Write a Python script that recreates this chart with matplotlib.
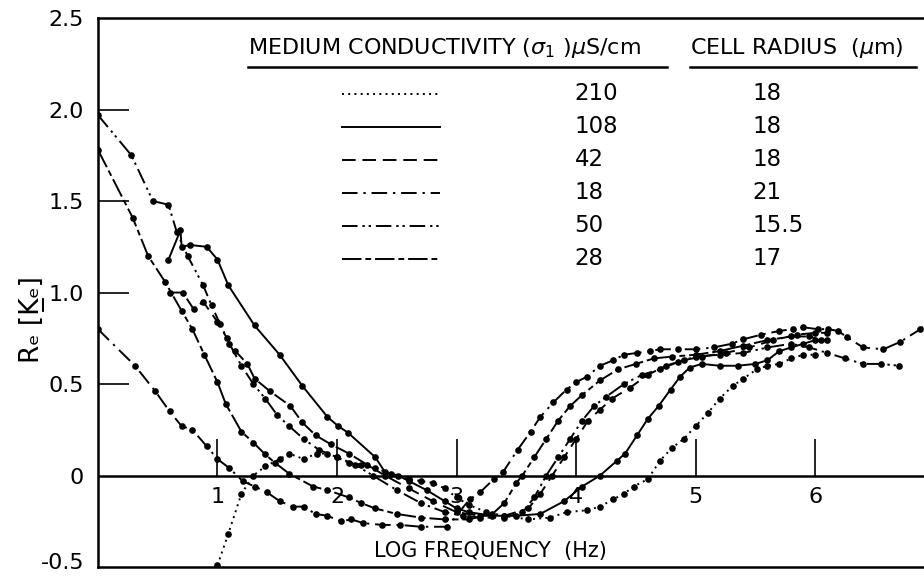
import matplotlib.pyplot as plt
from matplotlib.transforms import ScaledTranslation

plt.rcParams['font.family'] = ['DejaVu Sans']

# medium conductivity (uS/cm) and cell radius (um) for each run
conductivity = ["210", "108", "42", "18", "50", "28"]
radius = ["18", "18", "18", "21", "15.5", "17"]

# log frequency / Re[Ke] readings for each run
x_210 = [1.0, 1.09, 1.2, 1.3, 1.4, 1.52, 1.6, 1.72, 1.83, 1.92, 2.0, 2.1, 2.2, 2.32, 2.45, 2.6,
         2.7, 2.8, 2.9, 3.0, 3.1, 3.25, 3.4, 3.6, 3.78, 3.92, 4.09, 4.2, 4.31, 4.4, 4.48, 4.6,
         4.7, 4.8, 4.9, 5.0, 5.1, 5.2, 5.31, 5.4, 5.51, 5.6, 5.7, 5.8, 5.9, 6.0]
y_210 = [-0.49, -0.32, -0.1, 0.0, 0.05, 0.09, 0.12, 0.09, 0.12, 0.12, 0.1, 0.07, 0.06, 0.04,
         0.01, -0.02, -0.03, -0.04, -0.07, -0.12, -0.16, -0.2, -0.22, -0.24, -0.23, -0.2,
         -0.19, -0.17, -0.13, -0.1, -0.06, -0.02, 0.08, 0.15, 0.2, 0.27, 0.34, 0.42, 0.49,
         0.53, 0.58, 0.6, 0.61, 0.64, 0.66, 0.66]

x_108 = [0.59, 0.69, 0.7, 0.77, 0.91, 1.0, 1.09, 1.31, 1.52, 1.71, 1.92, 2.01, 2.09, 2.32,
         2.4, 2.51, 2.6, 2.75, 2.9, 3.0, 3.1, 3.3, 3.5, 3.7, 3.9, 4.05, 4.2, 4.34, 4.41, 4.51,
         4.6, 4.69, 4.79, 4.87, 4.95, 5.05, 5.2, 5.35, 5.5, 5.6, 5.7, 5.8, 5.9, 6.0, 6.1]
y_108 = [1.18, 1.34, 1.25, 1.26, 1.25, 1.18, 1.04, 0.82, 0.66, 0.49, 0.32, 0.27, 0.235, 0.1,
         0.02, 0.0, -0.03, -0.08, -0.14, -0.18, -0.2, -0.22, -0.22, -0.21, -0.14, -0.06, 0.0,
         0.08, 0.12, 0.22, 0.31, 0.38, 0.47, 0.54, 0.59, 0.61, 0.6, 0.6, 0.61, 0.63, 0.68,
         0.7, 0.72, 0.74, 0.74]

x_42 = [0.6, 0.71, 0.8, 0.88, 1.0, 1.08, 1.15, 1.25, 1.31, 1.44, 1.61, 1.71, 1.82, 1.95, 2.1,
        2.25, 2.4, 2.6, 2.8, 3.0, 3.2, 3.4, 3.6, 3.7, 3.8, 3.9, 4.0, 4.1, 4.2, 4.3, 4.45, 4.6,
        4.75, 4.9, 5.05, 5.25, 5.45, 5.65, 5.85, 6.0, 6.1]
y_42 = [1.0, 1.0, 0.91, 0.95, 0.84, 0.75, 0.68, 0.61, 0.53, 0.46, 0.38, 0.29, 0.22, 0.17, 0.12,
        0.06, 0.0, -0.07, -0.14, -0.2, -0.22, -0.22, -0.18, -0.1, 0.0, 0.1, 0.2, 0.3, 0.36,
        0.42, 0.48, 0.55, 0.6, 0.63, 0.65, 0.67, 0.7, 0.74, 0.77, 0.78, 0.78]

x_18 = [0.0, 0.31, 0.48, 0.6, 0.7, 0.79, 0.91, 1.0, 1.1, 1.21, 1.31, 1.41, 1.52, 1.63, 1.72,
        1.82, 1.92, 2.03, 2.12, 2.22, 2.38, 2.53, 2.7, 2.92, 3.11, 3.2, 3.31, 3.39, 3.51, 3.62,
        3.7, 3.81, 3.92, 4.0, 4.09, 4.2, 4.31, 4.4, 4.51, 4.62, 4.7, 4.85, 5.0, 5.15, 5.3,
        5.4, 5.55, 5.7, 5.81, 5.9, 6.02, 6.11, 6.19, 6.27, 6.4, 6.57, 6.71, 6.88, 6.95]
y_18 = [0.8, 0.6, 0.46, 0.35, 0.27, 0.25, 0.16, 0.09, 0.04, -0.03, -0.06, -0.09, -0.14, -0.17,
        -0.17, -0.21, -0.22, -0.25, -0.24, -0.26, -0.27, -0.27, -0.28, -0.28, -0.13, -0.09,
        -0.02, 0.02, 0.14, 0.24, 0.32, 0.4, 0.47, 0.51, 0.54, 0.6, 0.63, 0.66, 0.67, 0.68,
        0.69, 0.69, 0.69, 0.7, 0.72, 0.745, 0.77, 0.79, 0.8, 0.81, 0.8, 0.8, 0.79, 0.755, 0.7,
        0.69, 0.73, 0.8, 0.84]

x_50 = [0.0, 0.28, 0.46, 0.59, 0.66, 0.75, 0.88, 0.95, 1.02, 1.1, 1.2, 1.3, 1.4, 1.5, 1.6,
        1.72, 1.85, 2.0, 2.15, 2.3, 2.5, 2.7, 2.9, 3.05, 3.2, 3.4, 3.55, 3.65, 3.75, 3.85, 3.95,
        4.05, 4.15, 4.25, 4.4, 4.55, 4.7, 4.85, 5.0, 5.2, 5.4, 5.6, 5.8, 5.95, 6.1, 6.25, 6.4,
        6.55, 6.7]
y_50 = [1.97, 1.75, 1.5, 1.48, 1.33, 1.2, 1.04, 0.93, 0.83, 0.72, 0.6, 0.5, 0.42, 0.33, 0.27,
        0.2, 0.14, 0.1, 0.06, 0.0, -0.08, -0.15, -0.2, -0.22, -0.23, -0.23, -0.2, -0.12, 0.0,
        0.1, 0.2, 0.3, 0.38, 0.43, 0.5, 0.55, 0.58, 0.62, 0.65, 0.66, 0.67, 0.7, 0.72, 0.7,
        0.67, 0.64, 0.61, 0.61, 0.6]

x_28 = [0.0, 0.29, 0.42, 0.56, 0.7, 0.79, 0.89, 1.0, 1.07, 1.2, 1.3, 1.4, 1.48, 1.6, 1.8,
        1.92, 2.1, 2.2, 2.32, 2.5, 2.7, 2.9, 3.1, 3.3, 3.4, 3.5, 3.55, 3.65, 3.75, 3.85, 3.95,
        4.05, 4.2, 4.35, 4.5, 4.65, 4.8, 5.0, 5.2, 5.4, 5.6, 5.8, 5.95, 6.05]
y_28 = [1.78, 1.41, 1.2, 1.06, 0.9, 0.8, 0.66, 0.51, 0.39, 0.24, 0.18, 0.115, 0.07, 0.01,
        -0.06, -0.08, -0.12, -0.15, -0.18, -0.21, -0.23, -0.24, -0.24, -0.21, -0.15, -0.04,
        0.0, 0.1, 0.2, 0.3, 0.38, 0.44, 0.52, 0.58, 0.61, 0.64, 0.65, 0.66, 0.68, 0.71, 0.74,
        0.76, 0.76, 0.74]

series = [(x_210, y_210), (x_108, y_108), (x_42, y_42),
          (x_18, y_18), (x_50, y_50), (x_28, y_28)]
styles = [(0, (1, 2.2)), "-", (0, (7, 3.5)), (0, (8, 3, 1.2, 3)),
          (0, (8, 2.5, 1.2, 2, 1.2, 2.5)), (0, (10, 2, 3, 2))]

fig = plt.figure(figsize=(9.24, 5.76), dpi=100)
ax = fig.add_axes([0.106, 0.0156, 0.894, 0.953])

for (xs, ys), ls in zip(series, styles):
    ax.plot(xs, ys, color="black", lw=1.4, ls=ls, marker="o", ms=4.8,
            markerfacecolor="black", markeredgewidth=0)

# zero line with the frequency ticks standing on it
ax.axhline(0, color="black", lw=1.8)
xticks = [1, 2, 3, 4, 5, 6]
ax.vlines(xticks, 0, 0.2, color="black", lw=1.2)
for t in xticks:
    ax.text(t, -0.12, str(t), ha="center", va="center", fontsize=16)

ax.set_xlim(0, 6.91)
ax.set_ylim(-0.5, 2.5)
ax.set_xticks([])
yticks = [-0.5, 0, 0.5, 1.0, 1.5, 2.0, 2.5]
ax.set_yticks(yticks)
ax.set_yticklabels(["-0.5", "0", "0.5", "1.0", "1.5", "2.0", "2.5"], fontsize=16)
ax.tick_params(axis="y", direction="in", length=22, width=1.2, pad=10)
for i in (0, 1, 6):
    ax.yaxis.get_major_ticks()[i].tick1line.set_visible(False)
# keep the lowest label inside the figure
low = ax.get_yticklabels()[0]
low.set_transform(low.get_transform() + ScaledTranslation(0, 4 / 72, fig.dpi_scale_trans))

ax.spines["right"].set_visible(False)
for side in ("left", "top", "bottom"):
    ax.spines[side].set_linewidth(1.8)

ax.text(3.28, -0.41, "LOG FREQUENCY  (Hz)", ha="center", va="center", fontsize=15)
fig.text(0.035, 0.445, "R\u2091 [K\u0332\u2091]",
         rotation=90, ha="center", va="center", fontsize=19)

# legend table
ax.text(0.182, 0.945, r"MEDIUM CONDUCTIVITY ($\sigma_1$ )$\mu$S/cm", transform=ax.transAxes,
        ha="left", va="center", fontsize=16)
ax.text(0.717, 0.945, r"CELL RADIUS  ($\mu$m)", transform=ax.transAxes,
        ha="left", va="center", fontsize=16)
ax.plot([0.182, 0.689], [0.91, 0.91], transform=ax.transAxes, color="black", lw=1.8)
ax.plot([0.717, 0.99], [0.91, 0.91], transform=ax.transAxes, color="black", lw=1.8)
for i, ls in enumerate(styles):
    yy = 0.862 - 0.06 * i
    ax.plot([0.295, 0.414], [yy, yy], transform=ax.transAxes, color="black", lw=1.4, ls=ls)
    ax.text(0.577, yy, conductivity[i], transform=ax.transAxes, ha="left", va="center",
            fontsize=16.5)
    ax.text(0.792, yy, radius[i], transform=ax.transAxes, ha="left", va="center",
            fontsize=16.5)

fig.savefig("out.png", dpi=100)
